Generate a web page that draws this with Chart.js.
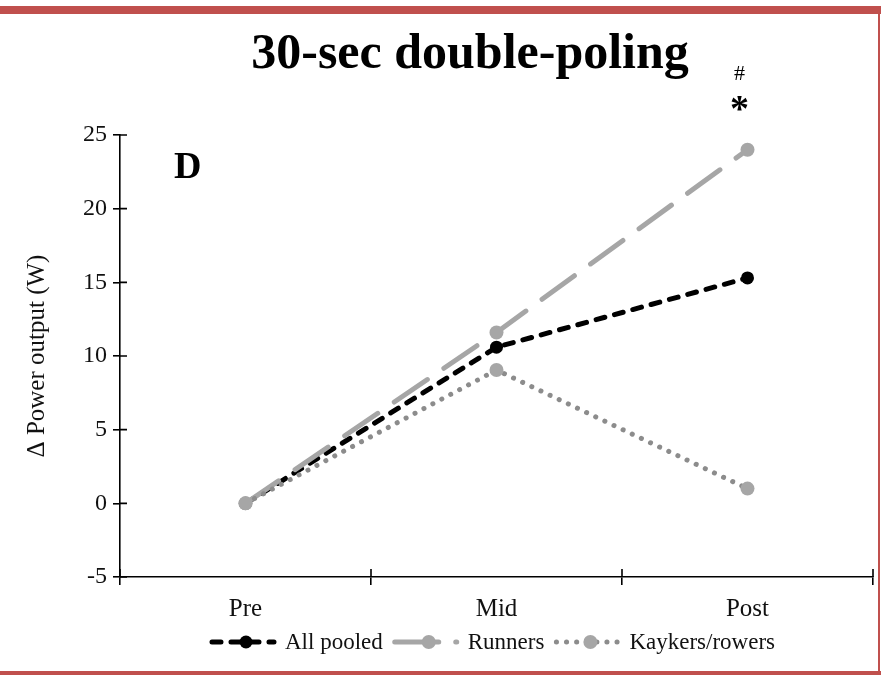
<!DOCTYPE html>
<html>
<head>
<meta charset="utf-8">
<title>30-sec double-poling</title>
<script src="https://cdn.jsdelivr.net/npm/chart.js@4/dist/chart.umd.min.js"></script>
<style>
  html, body { margin: 0; padding: 0; background: #fff; }
  #wrap { position: relative; width: 881px; height: 675px; }
</style>
</head>
<body>
<div id="wrap"><canvas id="c" width="881" height="675"></canvas></div>
<script>
// Test points
const categories = ['Pre', 'Mid', 'Post'];

// Change in 30-sec double-poling power output (W)
const allPooled = [0, 10.6, 15.3];
const runners = [0, 11.6, 24.0];
const kayakersRowers = [0, 9.05, 1.0];

const seriesNames = ['All pooled', 'Runners', 'Kaykers/rowers'];
const yTicks = { min: -5, max: 25, step: 5 };

const SERIF = '"Liberation Serif", "Times New Roman", serif';
const FRAME = '#C0504D';

// Page frame, title, panel letter and significance marks
const decorations = {
  id: 'decorations',
  beforeDraw(chart) {
    const c = chart.ctx;
    c.save();
    c.fillStyle = '#fff';
    c.fillRect(0, 0, chart.width, chart.height);
    c.fillStyle = FRAME;
    c.fillRect(0, 6, chart.width, 8);
    c.fillRect(0, 671, chart.width, 4);
    c.fillRect(878, 6, 2, 669);
    c.restore();
  },
  afterDraw(chart) {
    const c = chart.ctx;
    const x = chart.scales.x;
    c.save();
    c.fillStyle = '#000';
    c.textAlign = 'center';
    c.textBaseline = 'alphabetic';
    c.font = 'bold 50px ' + SERIF;
    c.fillText('30-sec double-poling', 470, 68);
    c.font = 'bold 38px ' + SERIF;
    c.textAlign = 'left';
    c.fillText('D', 174, 178);
    // marks above the Post value
    const px = x.getPixelForValue(2) - 8;
    c.textAlign = 'center';
    c.font = '22px ' + SERIF;
    c.fillText('#', px, 80);
    c.font = 'bold 38px ' + SERIF;
    c.fillText('*', px, 121);
    c.restore();
  }
};

// Tick marks that cross both axes
const crossTicks = {
  id: 'crossTicks',
  afterDraw(chart) {
    const c = chart.ctx;
    const x = chart.scales.x, y = chart.scales.y;
    const area = chart.chartArea;
    c.save();
    c.strokeStyle = '#000';
    c.lineWidth = 1.6;
    c.beginPath();
    y.ticks.forEach(t => {
      const py = y.getPixelForValue(t.value);
      c.moveTo(area.left, py);
      c.lineTo(area.left + 7, py);
    });
    const n = categories.length;
    for (let i = 0; i <= n; i++) {
      let px;
      if (i === 0) px = area.left;
      else if (i === n) px = area.right;
      else px = (x.getPixelForValue(i - 1) + x.getPixelForValue(i)) / 2;
      c.moveTo(px, area.bottom - 8);
      c.lineTo(px, area.bottom);
    }
    c.stroke();
    c.restore();
  }
};

// Legend row under the category labels
const lineLegend = {
  id: 'lineLegend',
  afterDraw(chart) {
    const c = chart.ctx;
    const area = chart.chartArea;
    const yL = 642;
    const sample = 62, gapText = 11, gapItem = 12;
    c.save();
    c.font = '23px ' + SERIF;
    c.textBaseline = 'middle';
    const ds = chart.data.datasets;
    let total = 0;
    ds.forEach((d, i) => {
      total += sample + gapText + c.measureText(d.label).width;
      if (i < ds.length - 1) total += gapItem;
    });
    let cx = (area.left + area.right) / 2 - total / 2 - 3;
    ds.forEach((d, i) => {
      c.save();
      c.strokeStyle = d.borderColor;
      c.lineWidth = d.borderWidth;
      c.lineCap = d.borderCapStyle || 'butt';
      c.setLineDash(d.legendDash || d.borderDash || []);
      c.beginPath();
      c.moveTo(cx, yL);
      c.lineTo(cx + sample, yL);
      c.stroke();
      c.setLineDash([]);
      c.fillStyle = d.pointBackgroundColor;
      c.beginPath();
      c.arc(cx + sample / 2 + 3, yL, d.pointRadius, 0, Math.PI * 2);
      c.fill();
      c.restore();
      cx += sample + gapText;
      c.fillStyle = '#111';
      c.textAlign = 'left';
      c.fillText(d.label, cx, yL + 1);
      cx += c.measureText(d.label).width + gapItem;
    });
    c.restore();
  }
};

new Chart(document.getElementById('c'), {
  type: 'line',
  data: {
    labels: categories,
    datasets: [
      {
        label: seriesNames[0],
        data: allPooled,
        borderColor: '#000',
        borderWidth: 5,
        borderDash: [9, 10],
        borderCapStyle: 'round',
        pointRadius: 6.5,
        pointBackgroundColor: '#000',
        pointBorderWidth: 0,
        tension: 0,
        order: 2
      },
      {
        label: seriesNames[1],
        data: runners,
        borderColor: '#A6A6A6',
        borderWidth: 5,
        borderDash: [40, 20],
        borderCapStyle: 'round',
        legendDash: [44, 17],
        pointRadius: 7,
        pointBackgroundColor: '#A6A6A6',
        pointBorderWidth: 0,
        tension: 0,
        order: 1
      },
      {
        label: seriesNames[2],
        data: kayakersRowers,
        borderColor: '#8C8C8C',
        borderWidth: 5,
        borderDash: [0.1, 10],
        borderCapStyle: 'round',
        pointRadius: 7,
        pointBackgroundColor: '#A6A6A6',
        pointBorderWidth: 0,
        tension: 0,
        order: 0
      }
    ]
  },
  options: {
    responsive: false,
    animation: false,
    layout: { padding: { top: 135, left: 0, right: 8, bottom: 0 } },
    plugins: {
      legend: { display: false },
      tooltip: { enabled: false },
      title: { display: false }
    },
    scales: {
      x: {
        offset: true,
        grid: { offset: true, drawOnChartArea: false, color: '#000', lineWidth: 1.6, tickLength: 8 },
        border: { display: true, color: '#000', width: 1.6 },
        ticks: { color: '#111', font: { family: SERIF, size: 25 }, padding: 9, maxRotation: 0 },
        afterFit(s) { s.height = 98; }
      },
      y: {
        min: yTicks.min,
        max: yTicks.max,
        grid: { drawOnChartArea: false, color: '#000', lineWidth: 1.6, tickLength: 7 },
        border: { display: true, color: '#000', width: 1.6 },
        ticks: { stepSize: yTicks.step, color: '#111', font: { family: SERIF, size: 24 }, padding: 6 },
        title: {
          display: true,
          text: 'Δ Power output (W)',
          color: '#111',
          font: { family: SERIF, size: 25 },
          padding: { top: 22, bottom: 0 }
        },
        afterFit(s) { s.width = 120; }
      }
    }
  },
  plugins: [decorations, crossTicks, lineLegend]
});
</script>
</body>
</html>
